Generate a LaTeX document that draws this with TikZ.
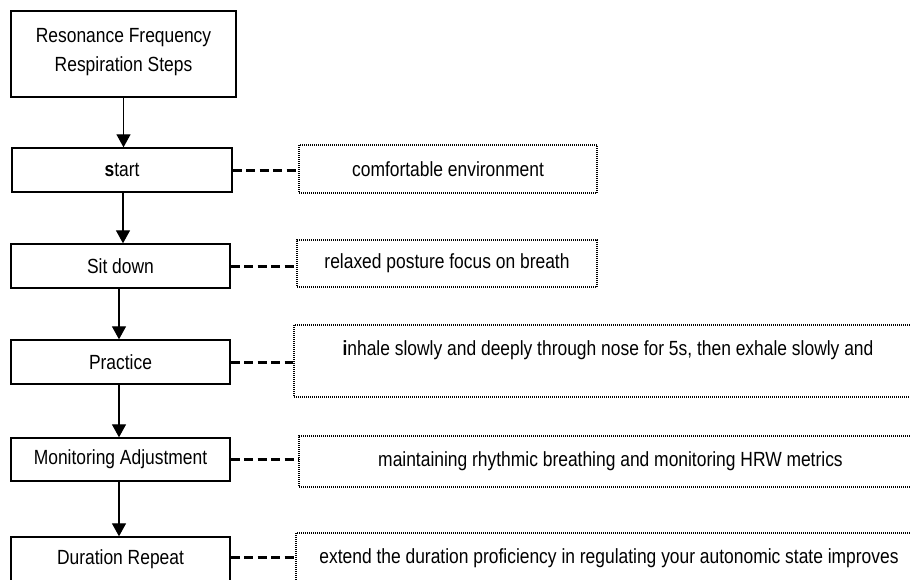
\documentclass[tikz,border=0pt]{standalone}
\usepackage{fontspec}
\setmainfont{Liberation Sans}[FakeStretch=0.85]
\usetikzlibrary{arrows.meta}
\newcommand\diagfont{\fontsize{20.5}{28.5}\selectfont}
\begin{document}
\begin{tikzpicture}[x=1pt,y=-1pt,
  stepbox/.style={draw, line width=1.4pt, minimum width=219pt, minimum height=44pt, inner sep=0pt, font=\diagfont, align=center},
  notebox/.style={draw, line width=1.1pt, dash pattern=on 1pt off 1pt, inner sep=0pt, font=\diagfont, align=center},
  flow/.style={line width=1.3pt, -{Triangle[length=13pt,width=14pt]}},
  link/.style={line width=3pt, dash pattern=on 9pt off 4.5pt}]
\useasboundingbox (0,0) rectangle (910,579);
\clip (0,0) rectangle (910,579);
\fill[white] (0,0) rectangle (910,579);

% left column
\node[stepbox, minimum width=225pt, minimum height=86pt] (title) at (123.5,54) {};
\node[font=\diagfont, align=center, inner sep=0pt] (titletext) at (123.5,52) {Resonance Frequency\\Respiration Steps};
\node[stepbox, minimum width=220pt] (start) at (122,170) {\textbf{s}tart};
\node[stepbox] (sit) at (120.5,266) {Sit down};
\node[stepbox] (prac) at (120.5,362) {Practice};
\node[stepbox, minimum height=43pt] (mon) at (120.5,459.5) {Monitoring Adjustment};
\node[stepbox] (dur) at (120.5,559) {Duration Repeat};

% right column
\node[notebox, minimum width=298pt, minimum height=48pt] (comf) at (448,169) {comfortable environment};
\node[notebox, minimum width=300pt, minimum height=47pt] (relax) at (447,263.5) {relaxed posture focus on breath};
\node[notebox, minimum width=628pt, minimum height=72pt, text height=14pt, text depth=26pt] (pnote) at (608,361) {\textbf{i}nhale slowly and deeply through nose for 5s, then exhale slowly and};
\node[notebox, minimum width=623pt, minimum height=51pt] (mnote) at (610.5,461.5) {maintaining rhythmic breathing and monitoring HRW metrics};
\node[notebox, minimum width=626pt, minimum height=50pt] (dnote) at (609,558) {extend the duration proficiency in regulating your autonomic state improves};

% flow arrows
\draw[flow] (title.south) -- (title.south |- start.north);
\draw[flow] ([xshift=1pt]start.south) -- ([xshift=1pt]start.south |- sit.north);
\draw[flow] ([xshift=-1.5pt]sit.south) -- ([xshift=-1.5pt]sit.south |- prac.north);
\draw[flow] ([xshift=-1.5pt]prac.south) -- ([xshift=-1.5pt]prac.south |- mon.north);
\draw[flow] ([xshift=-1.5pt]mon.south) -- ([xshift=-1.5pt]mon.south |- dur.north);

% dashed links
\draw[link] (start.east) -- (start.east -| comf.west);
\draw[link] (sit.east) -- (sit.east -| relax.west);
\draw[link] (prac.east) -- (prac.east -| pnote.west);
\draw[link] (mon.east) -- (mon.east -| mnote.west);
\draw[link] ([yshift=2pt]dur.east) -- ([yshift=2pt]dur.east -| dnote.west);
\end{tikzpicture}
\end{document}
